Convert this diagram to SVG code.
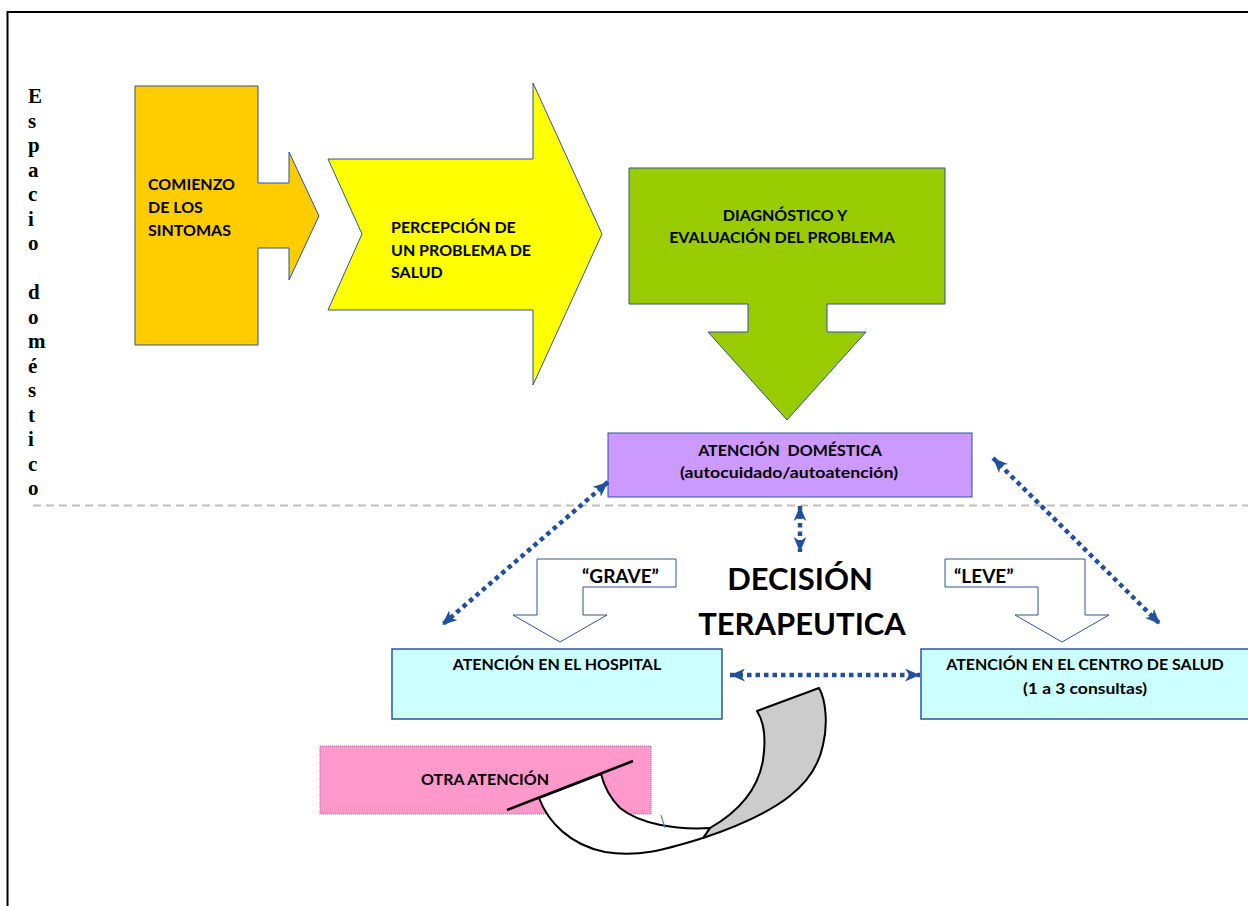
<svg xmlns="http://www.w3.org/2000/svg" width="1248" height="906" viewBox="0 0 1248 906">
  <style>
    .lbl { font-family: Lato, "Liberation Sans", sans-serif; font-weight: bold; font-size: 16px; fill: #000; }
    .big { font-family: Lato, "Liberation Sans", sans-serif; font-weight: bold; font-size: 31px; fill: #000; }
    .tag { font-family: Lato, "Liberation Sans", sans-serif; font-weight: bold; font-size: 19px; fill: #000; }
    .vert { font-family: "Liberation Serif", serif; font-weight: bold; font-size: 21px; fill: #000; }
    .shape { stroke: #2F5597; stroke-width: 1; }
    .link { fill: none; stroke: #23509B; stroke-width: 4.5; stroke-dasharray: 4.5 4; }
    .ribbon { stroke: #000; stroke-width: 2; stroke-linejoin: round; }
  </style>
  <defs>
    <marker id="head" viewBox="0 0 14 12" refX="14" refY="6" markerWidth="15" markerHeight="13" markerUnits="userSpaceOnUse" orient="auto-start-reverse">
      <path d="M0,0 L14,6 L0,12 L4,6 Z" fill="#23509B"/>
    </marker>
  </defs>

  <rect width="1248" height="906" fill="#fff"/>

  <!-- page frame -->
  <rect x="7.5" y="12" width="1300" height="1000" fill="none" stroke="#000" stroke-width="2"/>

  <!-- side caption, one letter per line -->
  <g id="side-caption" class="vert">
    <text x="28" y="103">E</text>
    <text x="28" y="127.5">s</text>
    <text x="28" y="152">p</text>
    <text x="28" y="176.5">a</text>
    <text x="28" y="201">c</text>
    <text x="28" y="225.5">i</text>
    <text x="28" y="250">o</text>
    <text x="28" y="299">d</text>
    <text x="28" y="323.5">o</text>
    <text x="28" y="348">m</text>
    <text x="28" y="372.5">é</text>
    <text x="28" y="397">s</text>
    <text x="28" y="421.5">t</text>
    <text x="28" y="446">i</text>
    <text x="28" y="470.5">c</text>
    <text x="28" y="495">o</text>
  </g>

  <!-- boundary between home and care spaces -->
  <line x1="33" y1="505.5" x2="1248" y2="505.5" stroke="#BFBFBF" stroke-width="2" stroke-dasharray="8 5"/>

  <g id="comienzo">
    <path class="shape" fill="#FFCC00" d="M135,86 L258,86 L258,183 L289,183 L289,152 L319,216 L289,280 L289,248 L258,248 L258,345 L135,345 Z"/>
    <text class="lbl" x="148" y="190">COMIENZO</text>
    <text class="lbl" x="148" y="213">DE LOS</text>
    <text class="lbl" x="148" y="236">SINTOMAS</text>
  </g>

  <g id="percepcion">
    <path class="shape" fill="#FFFF00" d="M328,159 L533,159 L533,83 L602,234 L533,385 L533,310 L328,310 L362,234 Z"/>
    <text class="lbl" x="391" y="233">PERCEPCIÓN DE</text>
    <text class="lbl" x="391" y="256">UN PROBLEMA DE</text>
    <text class="lbl" x="391" y="278">SALUD</text>
  </g>

  <g id="diagnostico">
    <path class="shape" fill="#99CC00" d="M629,168 L945,168 L945,304 L827,304 L827,332 L866,332 L787,420 L708,332 L748,332 L748,304 L629,304 Z"/>
    <text class="lbl" x="785" y="221" text-anchor="middle">DIAGNÓSTICO Y</text>
    <text class="lbl" x="782" y="243" text-anchor="middle">EVALUACIÓN DEL PROBLEMA</text>
  </g>

  <g id="atencion-domestica">
    <rect class="shape" x="608" y="433" width="364" height="64" fill="#CC99FF"/>
    <text class="lbl" x="790" y="456" text-anchor="middle" xml:space="preserve">ATENCIÓN  DOMÉSTICA</text>
    <text class="lbl" x="789" y="478" text-anchor="middle" textLength="218" lengthAdjust="spacingAndGlyphs">(autocuidado/autoatención)</text>
  </g>

  <g id="decision">
    <text class="big" x="800" y="590" text-anchor="middle">DECISIÓN</text>
    <text class="big" x="802" y="635" text-anchor="middle">TERAPEUTICA</text>
  </g>

  <g id="grave">
    <path class="shape" fill="#fff" d="M537,559 L676,559 L676,587 L583,587 L583,615 L607,615 L560,642 L513,615 L537,615 Z"/>
    <text class="tag" x="582" y="583">“GRAVE”</text>
  </g>

  <g id="leve">
    <path class="shape" fill="#fff" d="M945,559 L1085,559 L1085,615 L1109,615 L1062,642 L1015,615 L1038,615 L1038,587 L945,587 Z"/>
    <text class="tag" x="954" y="583">“LEVE”</text>
  </g>

  <g id="hospital">
    <rect x="392" y="649" width="330" height="70" fill="#CCFFFF" stroke="#2F5597" stroke-width="1.5"/>
    <text class="lbl" x="557" y="670" text-anchor="middle">ATENCIÓN EN EL HOSPITAL</text>
  </g>

  <g id="centro-salud">
    <rect x="921" y="649" width="340" height="70" fill="#CCFFFF" stroke="#2F5597" stroke-width="1.5"/>
    <text class="lbl" x="1085" y="670" text-anchor="middle">ATENCIÓN EN EL CENTRO DE SALUD</text>
    <text class="lbl" x="1085" y="694" text-anchor="middle" textLength="124" lengthAdjust="spacingAndGlyphs">(1 a 3 consultas)</text>
  </g>

  <g id="otra-atencion">
    <rect x="320" y="746" width="331" height="68" fill="#FF99CC" stroke="#9966CC" stroke-width="1" stroke-dasharray="1 1"/>
    <text class="lbl" x="421" y="785">OTRA ATENCIÓN</text>
  </g>

  <!-- twisted return ribbon below the care boxes -->
  <g id="retorno">
    <path class="ribbon" fill="#CCCCCC" d="M757,711 L819,688 C826,700 828,725 823,745 C815,785 780,812 703,838 L710,828 C738,812 758,790 763,760 C766,740 764,722 757,711 Z"/>
    <path class="ribbon" fill="#fff" d="M539,798 C548,822 570,845 605,852 C640,858 670,848 703,838 L710,828 C675,830 640,824 620,808 C610,798 604,786 601,774 Z"/>
    <line x1="507" y1="810" x2="633" y2="761" stroke="#000" stroke-width="2.5"/>
    <line x1="661" y1="815" x2="665" y2="828" stroke="#5B8BD0" stroke-width="1.2"/>
  </g>

  <g id="connectors">
    <line class="link" x1="608" y1="482" x2="442" y2="625" marker-start="url(#head)" marker-end="url(#head)"/>
    <line class="link" x1="800" y1="506" x2="800" y2="552" marker-start="url(#head)" marker-end="url(#head)"/>
    <line class="link" x1="993" y1="458" x2="1160" y2="624" marker-start="url(#head)" marker-end="url(#head)"/>
    <line class="link" x1="730" y1="675" x2="920" y2="675" marker-start="url(#head)" marker-end="url(#head)"/>
  </g>
</svg>
